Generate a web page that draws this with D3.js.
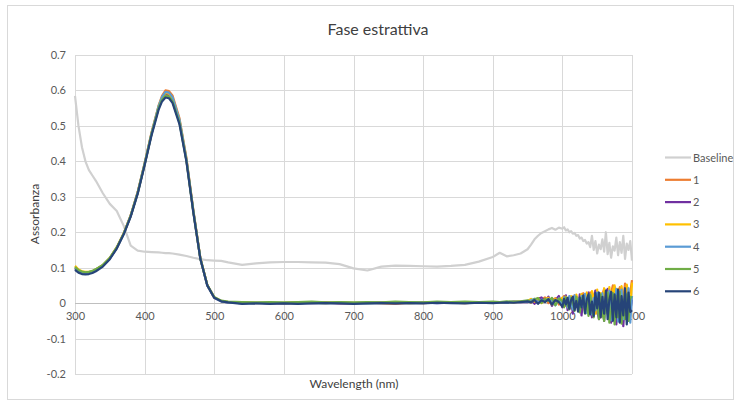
<!DOCTYPE html>
<html><head><meta charset="utf-8">
<script src="https://cdn.jsdelivr.net/npm/d3@7"></script>
<style>html,body{margin:0;padding:0;background:#fff}svg{display:block}</style>
</head><body>
<svg id="c" width="736" height="405"></svg>
<script>
const wavelengths = [300,305,310,315,320,325,330,340,350,360,370,380,390,400,410,420,425,430,435,440,450,460,470,480,490,500,510,520,
540,560,580,600,620,640,660,680,700,720,740,760,780,800,820,840,860,880,900,910,920,930,940,
950,955,960,965,970,975,980,985,990,995,
1000,1002.5,1005,1007.5,1010,1012.5,1015,1017.5,1020,1022.5,1025,1027.5,1030,1032.5,1035,1037.5,1040,1042.5,1045,1047.5,
1050,1052.5,1055,1057.5,1060,1062.5,1065,1067.5,1070,1072.5,1075,1077.5,1080,1082.5,1085,1087.5,1090,1092.5,1095,1097.5,1100];

const baseline = [0.585,0.50,0.44,0.40,0.375,0.36,0.345,0.31,0.28,0.26,0.218,0.162,0.148,0.145,0.144,0.143,0.142,0.141,0.141,0.14,0.137,0.133,0.128,0.124,0.121,0.12,0.119,0.115,
0.108,0.112,0.115,0.116,0.116,0.115,0.114,0.11,0.098,0.092,0.103,0.106,0.105,0.104,0.103,0.105,0.108,0.117,0.13,0.142,0.132,0.135,0.14,
0.152,0.165,0.18,0.19,0.198,0.203,0.208,0.212,0.207,0.213,
0.21,0.214,0.205,0.208,0.2,0.203,0.196,0.198,0.19,0.192,0.182,0.185,0.175,0.178,0.168,0.172,0.158,0.19,0.15,0.175,
0.14,0.165,0.152,0.18,0.145,0.2,0.138,0.17,0.128,0.16,0.148,0.185,0.135,0.172,0.142,0.19,0.125,0.168,0.15,0.175,0.12];

const s1 = [0.100,0.092,0.088,0.086,0.087,0.090,0.095,0.107,0.127,0.157,0.197,0.248,0.313,0.395,0.482,0.557,0.585,0.600,0.598,0.586,0.522,0.410,0.262,0.128,0.051,0.016,0.006,0.003,
0.001,0.000,0.001,-0.001,0.000,0.001,0.002,0.000,-0.001,0.001,0.000,-0.002,0.001,0.000,0.002,0.001,0.000,0.002,0.001,0.002,0.003,0.002,0.004,
0.006,0.002,0.012,0.004,0.010,0.016,0.000,0.008,0.014,-0.004,
0.010,0.020,-0.008,0.006,0.018,-0.015,0.004,0.022,-0.010,0.012,-0.020,0.015,0.028,-0.005,-0.025,0.010,0.030,-0.018,0.005,0.035,
-0.030,0.012,-0.040,0.025,0.040,-0.015,0.008,-0.045,0.030,0.050,-0.020,-0.050,0.020,0.045,-0.035,0.010,0.055,-0.040,0.025,0.030,0.065];

const s2 = [0.098,0.090,0.086,0.085,0.086,0.089,0.094,0.106,0.126,0.156,0.196,0.246,0.311,0.392,0.478,0.551,0.576,0.588,0.586,0.573,0.512,0.404,0.258,0.126,0.050,0.015,0.005,0.002,
0.000,0.001,-0.001,0.000,0.001,0.000,0.001,-0.001,0.000,0.001,0.002,0.000,0.001,0.002,0.000,0.001,0.002,0.001,0.003,0.001,0.002,0.004,0.003,
0.003,0.010,-0.002,0.012,0.016,0.004,0.018,-0.008,0.008,0.020,
-0.012,0.010,0.022,-0.020,0.005,0.015,-0.030,0.018,0.002,-0.015,0.025,-0.035,0.010,0.020,-0.025,0.030,-0.010,-0.040,0.015,0.035,
-0.020,-0.045,0.025,0.010,-0.050,0.030,0.040,-0.035,-0.055,0.020,0.045,-0.060,0.015,-0.030,0.035,-0.065,0.010,0.040,-0.050,-0.020,0.010];

const s3 = [0.105,0.095,0.090,0.088,0.088,0.090,0.095,0.107,0.127,0.157,0.197,0.247,0.312,0.393,0.480,0.554,0.580,0.593,0.591,0.578,0.516,0.406,0.259,0.127,0.051,0.016,0.006,0.003,
0.002,0.001,0.000,0.001,0.002,0.001,0.000,0.002,0.001,0.000,0.001,0.002,0.000,0.001,0.002,0.003,0.001,0.002,0.002,0.003,0.002,0.003,0.005,
0.006,0.012,0.004,0.014,0.000,0.010,0.015,-0.004,0.012,0.006,
0.016,-0.006,0.018,0.008,-0.012,0.020,0.010,-0.015,0.024,0.004,-0.018,0.026,0.012,-0.022,0.030,0.005,-0.025,0.034,0.015,-0.030,
0.038,-0.012,0.028,-0.035,0.042,0.010,-0.030,0.045,-0.020,0.035,0.050,-0.025,0.040,-0.040,0.048,0.015,-0.030,0.052,0.020,-0.015,0.058];

const s4 = [0.099,0.091,0.087,0.085,0.086,0.089,0.094,0.106,0.126,0.156,0.196,0.247,0.312,0.394,0.480,0.555,0.582,0.596,0.594,0.581,0.518,0.407,0.260,0.127,0.050,0.015,0.005,0.002,
0.000,0.000,0.001,0.000,-0.001,0.001,0.000,0.001,0.000,-0.001,0.001,0.000,0.002,0.001,0.000,0.002,0.001,0.001,0.002,0.003,0.001,0.003,0.004,
0.004,0.008,0.012,0.002,0.010,0.005,0.012,0.007,-0.006,0.014,
-0.005,0.016,0.006,-0.012,0.020,0.002,-0.018,0.022,-0.008,0.012,-0.022,0.020,-0.010,0.026,-0.028,0.008,0.024,-0.032,0.015,-0.020,
0.030,-0.035,0.010,0.028,-0.042,0.020,-0.030,0.035,-0.048,0.025,-0.020,0.040,-0.052,0.015,0.038,-0.045,0.030,-0.030,0.042,-0.055,0.020];

const s5 = [0.102,0.093,0.089,0.087,0.088,0.091,0.096,0.108,0.128,0.157,0.196,0.246,0.310,0.391,0.477,0.550,0.574,0.585,0.583,0.570,0.509,0.402,0.257,0.126,0.051,0.017,0.007,0.004,
0.003,0.002,0.003,0.002,0.003,0.004,0.002,0.003,0.002,0.003,0.002,0.004,0.003,0.002,0.004,0.003,0.004,0.003,0.004,0.003,0.005,0.004,0.005,
0.008,0.003,0.011,0.014,0.001,0.012,0.006,0.015,-0.006,0.013,
0.006,-0.012,0.016,-0.004,-0.018,0.014,0.004,-0.022,0.018,-0.010,-0.026,0.012,0.020,-0.030,0.008,-0.036,0.022,-0.014,-0.040,0.018,
0.010,-0.045,0.025,-0.030,-0.050,0.015,0.030,-0.055,-0.020,0.028,-0.060,0.020,-0.040,0.032,-0.058,0.010,-0.045,0.025,-0.050,0.018,0.015];

const s6 = [0.094,0.086,0.082,0.081,0.082,0.085,0.090,0.103,0.124,0.154,0.194,0.244,0.308,0.389,0.474,0.545,0.569,0.580,0.578,0.565,0.505,0.400,0.255,0.125,0.050,0.015,0.005,0.002,
-0.002,-0.001,-0.002,-0.001,-0.002,-0.001,0.000,-0.001,-0.002,-0.001,0.000,-0.001,0.000,-0.001,0.001,0.000,-0.001,0.001,0.000,0.001,0.002,0.001,0.003,
0.005,0.002,0.009,-0.002,0.008,0.003,0.011,-0.004,0.009,0.003,
-0.010,0.012,-0.004,0.015,-0.016,0.008,0.018,-0.020,0.006,-0.024,0.016,-0.012,0.022,-0.028,0.010,0.025,-0.032,0.004,-0.036,0.028,
-0.015,0.030,-0.040,0.018,-0.030,0.035,-0.045,0.010,0.032,-0.050,0.025,-0.040,0.038,-0.055,0.020,-0.035,0.042,-0.060,0.030,-0.025,-0.020];

const seriesNames = ["Baseline","1","2","3","4","5","6"];
const seriesColors = ["#d0d0d0","#ed7d31","#7030a0","#ffc000","#5b9bd5","#70ad47","#264478"];
const seriesValues = [baseline,s1,s2,s3,s4,s5,s6];

const xTicks = [300,400,500,600,700,800,900,1000,1100];
const yTicks = [-0.2,-0.1,0,0.1,0.2,0.3,0.4,0.5,0.6,0.7];
const yTickLabels = ["-0.2","-0.1","0","0.1","0.2","0.3","0.4","0.5","0.6","0.7"];

const title = "Fase estrattiva";
const xTitle = "Wavelength (nm)";
const yTitle = "Assorbanza";

const svg = d3.select("#c");
const font = "Lato, 'Open Sans', sans-serif";

svg.append("rect").attr("x",7.5).attr("y",5.5).attr("width",726).attr("height",394)
  .attr("fill","#fff").attr("stroke","#d9d9d9").attr("stroke-width",1);

const x = d3.scaleLinear().domain([300,1100]).range([75,632]);
const y = d3.scaleLinear().domain([-0.2,0.7]).range([374,55]);

// grid
const grid = svg.append("g");
grid.selectAll("line.v").data(xTicks).join("line")
  .attr("x1",d=>Math.round(x(d))+0.5).attr("x2",d=>Math.round(x(d))+0.5)
  .attr("y1",y(0.7)).attr("y2",y(-0.2)).attr("stroke","#d9d9d9").attr("stroke-width",1);
grid.selectAll("line.h").data(yTicks).join("line")
  .attr("y1",d=>Math.round(y(d))+0.5).attr("y2",d=>Math.round(y(d))+0.5)
  .attr("x1",x(300)).attr("x2",x(1100)).attr("stroke",d=>d===0?"#bfbfbf":"#d9d9d9").attr("stroke-width",1);

// y axis labels
const yAxis = d3.axisLeft(y).tickValues(yTicks).tickSize(0).tickPadding(9)
  .tickFormat((d,i)=>yTickLabels[i]);
const gy = svg.append("g").attr("transform",`translate(${x(300)},0)`).call(yAxis);
gy.select(".domain").remove();
gy.selectAll("text").attr("fill","#595959").style("font-family",font).style("font-size","11px");

// x axis labels at y=0
const xAxis = d3.axisBottom(x).tickValues(xTicks).tickSize(0).tickPadding(9).tickFormat(d3.format("d"));
const gx = svg.append("g").attr("transform",`translate(0,${y(0)})`).call(xAxis);
gx.select(".domain").remove();
gx.selectAll("text").attr("fill","#595959").style("font-family",font).style("font-size","11px");

// lines
const line = d3.line().x((d,i)=>x(wavelengths[i])).y(d=>y(d));
seriesValues.forEach((vals,k)=>{
  svg.append("path").datum(vals).attr("d",line).attr("fill","none")
    .attr("stroke",seriesColors[k]).attr("stroke-width",2.2).attr("stroke-linejoin","round");
});

// titles
svg.append("text").attr("x",378).attr("y",35).attr("text-anchor","middle")
  .attr("fill","#404040").style("font-family",font).style("font-size","16px").text(title);
svg.append("text").attr("x",354).attr("y",388).attr("text-anchor","middle")
  .attr("fill","#404040").style("font-family",font).style("font-size","12px").text(xTitle);
svg.append("text").attr("transform","translate(39,214) rotate(-90)").attr("text-anchor","middle")
  .attr("fill","#404040").style("font-family",font).style("font-size","12px").text(yTitle);

// legend
const lg = svg.append("g");
seriesNames.forEach((n,k)=>{
  const yy = 157.5 + k*22.3;
  lg.append("line").attr("x1",665).attr("x2",691).attr("y1",yy).attr("y2",yy)
    .attr("stroke",seriesColors[k]).attr("stroke-width",2.2);
  lg.append("text").attr("x",693).attr("y",yy+4).attr("fill","#595959")
    .style("font-family",font).style("font-size","11px").text(n);
});
</script>
</body></html>
